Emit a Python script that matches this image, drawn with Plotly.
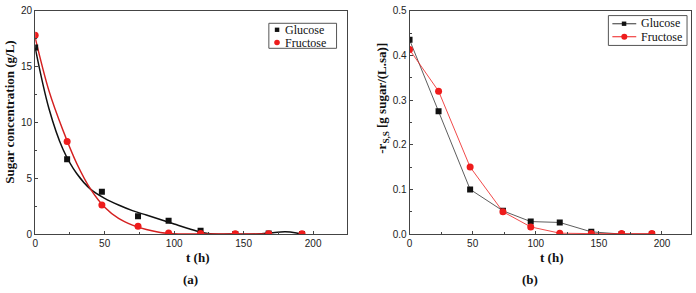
import plotly.graph_objects as go

# ---- data ----
t_points = [0, 23, 48, 74, 96, 119, 144, 168, 192]
glucose_conc = [16.7, 6.7, 3.8, 1.6, 1.2, 0.3, 0.0, 0.05, 0.0]
fructose_conc = [17.8, 8.3, 2.6, 0.7, 0.1, 0.05, 0.02, 0.02, 0.02]

t_fit = [0, 10, 20, 30, 40, 50, 60, 70, 80, 90, 100, 110, 120, 128, 140, 160, 170, 180, 188, 192]
glucose_fit = [16.7, 11.2, 7.6, 5.4, 4.0, 3.2, 2.6, 2.1, 1.7, 1.3, 0.9, 0.5, 0.15, 0.0, 0.0, 0.0, 0.12, 0.2, 0.1, 0.0]
t_fit_f = [0, 10, 20, 30, 40, 50, 60, 70, 80, 90, 100, 110, 130, 165]
fructose_fit = [17.6, 12.8, 9.3, 6.3, 4.0, 2.4, 1.4, 0.8, 0.4, 0.15, 0.02, 0.0, 0.0, 0.0]

glucose_rate = [0.435, 0.275, 0.100, 0.052, 0.028, 0.026, 0.005, 0.0, 0.0]
fructose_rate = [0.413, 0.320, 0.150, 0.050, 0.016, 0.002, 0.001, 0.001, 0.001]

series_names = ["Glucose", "Fructose"]

W, H = 696, 293
def px(x): return x / W
def py(y): return 1 - y / H

BLACK = "#111111"
RED = "#ee1c1c"

fig = go.Figure()
# panel (a)
fig.add_trace(go.Scatter(x=t_fit, y=glucose_fit, mode="lines", line=dict(color=BLACK, width=1.5, shape="spline"),
                         showlegend=False, xaxis="x", yaxis="y"))
fig.add_trace(go.Scatter(x=t_fit_f, y=fructose_fit, mode="lines", line=dict(color="#d42020", width=1.5, shape="spline"),
                         showlegend=False, xaxis="x", yaxis="y"))
fig.add_trace(go.Scatter(x=t_points, y=glucose_conc, mode="markers", name=series_names[0], showlegend=False,
                         marker=dict(symbol="square", color=BLACK, size=6), xaxis="x", yaxis="y"))
fig.add_trace(go.Scatter(x=t_points, y=fructose_conc, mode="markers", name=series_names[1], showlegend=False,
                         marker=dict(symbol="circle", color=RED, size=7), xaxis="x", yaxis="y"))
# panel (b)
fig.add_trace(go.Scatter(x=t_points, y=glucose_rate, mode="lines+markers", name=series_names[0], showlegend=False,
                         line=dict(color="#333333", width=0.8),
                         marker=dict(symbol="square", color=BLACK, size=6), xaxis="x2", yaxis="y2"))
fig.add_trace(go.Scatter(x=t_points, y=fructose_rate, mode="lines+markers", name=series_names[1], showlegend=False,
                         line=dict(color=RED, width=0.8),
                         marker=dict(symbol="circle", color=RED, size=7), xaxis="x2", yaxis="y2"))

axis_common = dict(showline=True, linecolor="#444444", linewidth=1, mirror=True, showgrid=False, zeroline=False,
                   ticks="inside", ticklen=3, tickcolor="#444444",
                   tickfont=dict(family="Liberation Sans, Arial", size=10, color="#222222"))
minor_common = dict(ticks="inside", ticklen=2, tickcolor="#444444")

ydom = [py(238), py(6)]
fig.update_layout(
    width=W, height=H, margin=dict(l=0, r=0, t=0, b=0),
    plot_bgcolor="white", paper_bgcolor="white", showlegend=False,
    xaxis=dict(domain=[px(32.3), px(345)], range=[0, 224], dtick=50,
               minor=dict(dtick=25, **minor_common), anchor="y", **axis_common),
    yaxis=dict(domain=ydom, range=[0, 20], dtick=5,
               minor=dict(dtick=2.5, **minor_common), anchor="x", **axis_common),
    xaxis2=dict(domain=[px(408.3), px(691)], range=[0, 223], dtick=50,
                minor=dict(dtick=25, **minor_common), anchor="y2", **axis_common),
    yaxis2=dict(domain=ydom, range=[0, 0.5], dtick=0.1, tickformat=".1f",
                minor=dict(dtick=0.05, **minor_common), anchor="x2", **axis_common),
)

tfont = dict(family="Liberation Serif, Times New Roman", size=13, color="#111111")
lfont = dict(family="Liberation Serif, Times New Roman", size=12, color="#111111")
def a(text, x, y, angle=0, font=tfont, xanchor="center"):
    return dict(text=text, x=px(x), y=py(y), xref="paper", yref="paper", showarrow=False,
                xanchor=xanchor, yanchor="middle", textangle=angle, font=font)
ann = [
    a("<b>t (h)</b>", 195, 262),
    a("<b>t (h)</b>", 551, 262),
    a("<b>(a)</b>", 188, 285),
    a("<b>(b)</b>", 529, 285),
    a("<b>Sugar concentration (g/L)</b>", 7, 111, -90),
    a("<b>-r<sub>S,S</sub> [g sugar/(L.sa)]</b>", 381, 97, -90),
    # legend texts
    a(series_names[0], 281, 25.5, font=lfont, xanchor="left"),
    a(series_names[1], 281, 39.5, font=lfont, xanchor="left"),
    a(series_names[0], 639, 19, font=lfont, xanchor="left"),
    a(series_names[1], 639, 33, font=lfont, xanchor="left"),
]

def rect(x0, y0, x1, y1, **kw):
    return dict(type="rect", xref="paper", yref="paper", x0=px(x0), x1=px(x1), y0=py(y1), y1=py(y0), **kw)
def circ(cx, cy, r, color):
    return dict(type="circle", xref="paper", yref="paper", x0=px(cx - r), x1=px(cx + r), y0=py(cy + r), y1=py(cy - r),
                fillcolor=color, line=dict(width=0))
def hline(x0, x1, y, color):
    return dict(type="line", xref="paper", yref="paper", x0=px(x0), x1=px(x1), y0=py(y), y1=py(y),
                line=dict(color=color, width=1))

shapes = [
    # legend (a)
    rect(267, 19, 335, 45, line=dict(color="#555555", width=1), fillcolor="white"),
    rect(273, 23.5, 277.5, 28, line=dict(width=0), fillcolor=BLACK),
    circ(275.2, 39, 2.8, RED),
    # legend (b)
    rect(608, 11, 687, 42, line=dict(color="#555555", width=1), fillcolor="white"),
    hline(612, 636, 19.5, "#333333"),
    rect(621.5, 17.2, 626, 21.7, line=dict(width=0), fillcolor=BLACK),
    hline(612, 636, 33, RED),
    circ(624, 33, 3, RED),
]
fig.update_layout(annotations=ann, shapes=shapes)

fig.write_html("out.html")
